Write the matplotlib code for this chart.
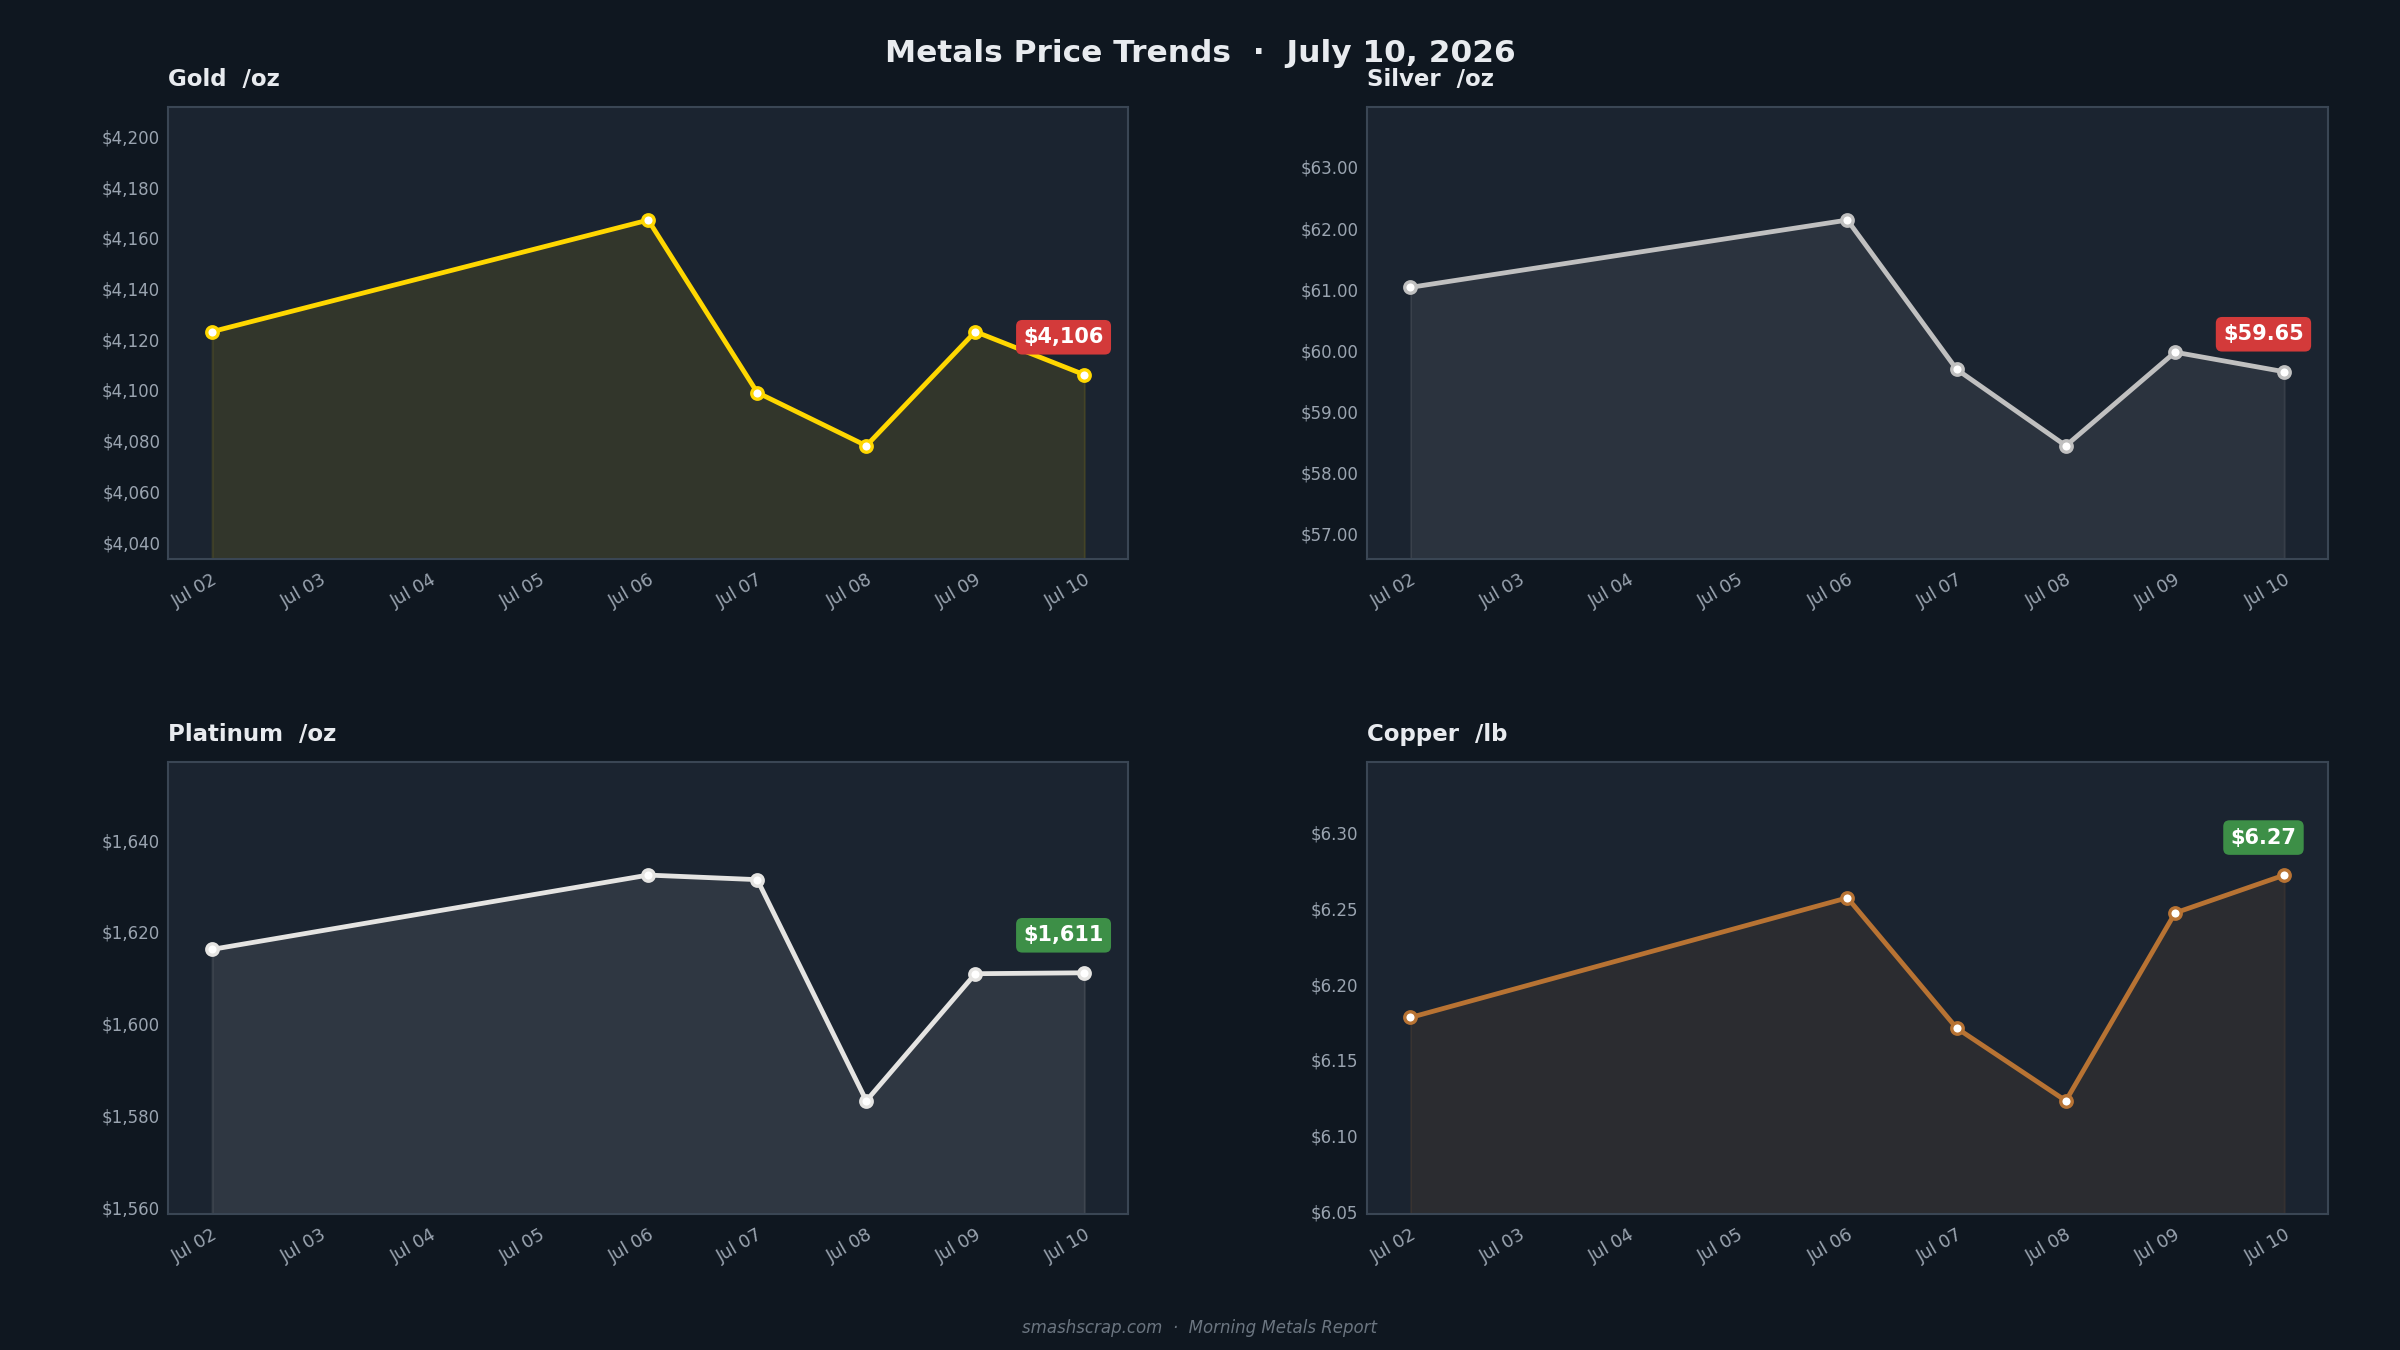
import numpy as np
import matplotlib
matplotlib.use("Agg")
import matplotlib.pyplot as plt
import matplotlib.dates as mdates
from matplotlib.ticker import MultipleLocator, FuncFormatter
import datetime as dt

# ---- data ----
dates = [dt.date(2026, 7, 2), dt.date(2026, 7, 6), dt.date(2026, 7, 7),
         dt.date(2026, 7, 8), dt.date(2026, 7, 9), dt.date(2026, 7, 10)]
gold = [4123, 4167, 4099, 4078, 4123, 4106]
silver = [61.03, 62.13, 59.69, 58.44, 59.97, 59.65]
platinum = [1616.2, 1632.4, 1631.4, 1583.2, 1610.9, 1611.1]
copper = [6.178, 6.257, 6.171, 6.123, 6.247, 6.272]

titles = ["Gold  /oz", "Silver  /oz", "Platinum  /oz", "Copper  /lb"]
line_colors = ["#FFD700", "#C0C0C0", "#E5E4E2", "#B87333"]
tick_steps = [20, 1.0, 20, 0.05]
tick_fmts = ["${:,.0f}", "${:,.2f}", "${:,.0f}", "${:,.2f}"]
badge_fmts = ["${:,.0f}", "${:,.2f}", "${:,.0f}", "${:,.2f}"]
series = [gold, silver, platinum, copper]

BG = "#0f1720"
AX_BG = "#1b2430"
SPINE = "#3a4654"
TICK = "#9aa4b0"
TEXT = "#e8ebef"
RED = "#d33a3a"
GREEN = "#3d8f47"

fig = plt.figure(figsize=(16, 9), dpi=150, facecolor=BG)

positions = [
    [0.0702, 0.5862, 0.3998, 0.3344],
    [0.5695, 0.5862, 0.4005, 0.3344],
    [0.0702, 0.1010, 0.3998, 0.3344],
    [0.5695, 0.1010, 0.4005, 0.3344],
]

xd = mdates.date2num(dates)

for i, (vals, pos) in enumerate(zip(series, positions)):
    ax = fig.add_axes(pos)
    ax.set_facecolor(AX_BG)
    c = line_colors[i]
    vmin, vmax = min(vals), max(vals)
    rng = vmax - vmin
    lo, hi = vmin - 0.5 * rng, vmax + 0.5 * rng
    ax.fill_between(xd, vals, lo, color=c, alpha=0.10, linewidth=1, zorder=1)
    ax.plot(xd, vals, color=c, lw=2.3, zorder=3,
            marker="o", markersize=5.5, markerfacecolor="white",
            markeredgecolor=c, markeredgewidth=1.6)
    ax.set_ylim(lo, hi)
    ax.set_xlim(xd[0] - 0.4, xd[-1] + 0.4)
    ax.xaxis.set_major_locator(mdates.DayLocator())
    ax.xaxis.set_major_formatter(mdates.DateFormatter("%b %d"))
    ax.yaxis.set_major_locator(MultipleLocator(tick_steps[i]))
    fmt = tick_fmts[i]
    ax.yaxis.set_major_formatter(FuncFormatter(lambda v, p, f=fmt: f.format(v)))
    ax.tick_params(axis="y", colors=TICK, labelsize=8, length=0, pad=4)
    ax.tick_params(axis="x", colors=TICK, labelsize=8.5, length=0, pad=6)
    for lab in ax.get_xticklabels():
        lab.set_rotation(30)
        lab.set_ha("right")
        lab.set_rotation_mode("anchor")
    for s in ax.spines.values():
        s.set_color(SPINE)
        s.set_linewidth(1.0)
    ax.set_title(titles[i], loc="left", color=TEXT, fontsize=11,
                 fontweight="bold", pad=10)
    last, prev = vals[-1], vals[-2]
    bc = GREEN if last >= prev else RED
    ax.annotate(badge_fmts[i].format(last), xy=(xd[-1], last),
                xytext=(-10, 18), textcoords="offset points",
                ha="center", va="center", color="white", fontsize=10,
                fontweight="bold", zorder=5,
                bbox=dict(boxstyle="round,pad=0.35,rounding_size=0.3",
                          facecolor=bc, edgecolor="none"))

fig.text(0.5, 0.960, "Metals Price Trends  \u00b7  July 10, 2026", ha="center",
         va="center", color=TEXT, fontsize=15, fontweight="bold")
fig.text(0.5, 0.016, "smashscrap.com  \u00b7  Morning Metals Report", ha="center",
         va="center", color="#6b7580", fontsize=8, style="italic")

fig.savefig("out.png", dpi=150, facecolor=BG)
